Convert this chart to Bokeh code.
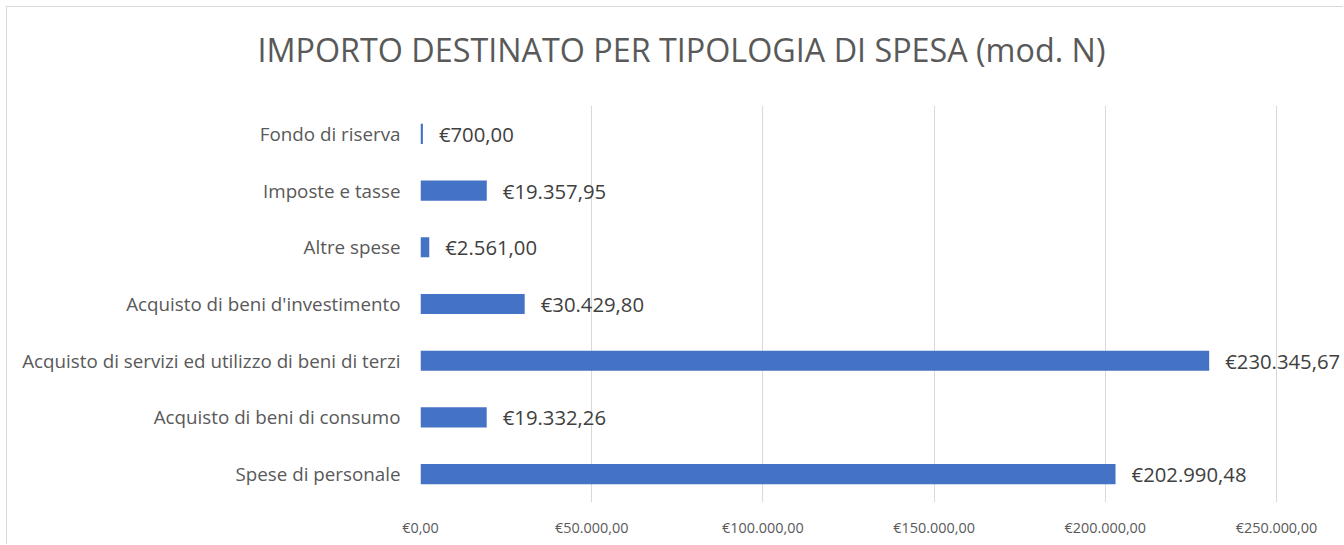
from bokeh.plotting import figure
from bokeh.models import FixedTicker, ColumnDataSource, Title
from bokeh.core.properties import value
from bokeh.embed import file_html
from bokeh.resources import INLINE

# ---- data (bottom to top) ----
categories = [
    "Spese di personale",
    "Acquisto di beni di consumo",
    "Acquisto di servizi ed utilizzo di beni di terzi",
    "Acquisto di beni d'investimento",
    "Altre spese",
    "Imposte e tasse",
    "Fondo di riserva",
]
amounts = [202990.48, 19332.26, 230345.67, 30429.80, 2561.00, 19357.95, 700.00]
tick_values = [0, 50000, 100000, 150000, 200000, 250000]
title_text = "IMPORTO DESTINATO PER TIPOLOGIA DI SPESA (mod. N)"


def euro(v):
    s = f"{v:,.2f}"  # 1,234.56
    s = s.replace(",", "X").replace(".", ",").replace("X", ".")
    return "€" + s


labels = [euro(v) for v in amounts]
tick_labels = {t: euro(t) for t in tick_values}

FONT = "Open Sans"
OFF = 7                      # canvas origin on the page (margin + border)
W, H = 1344 - OFF, 545 - OFF
FRAME_LEFT = 420 - OFF
FRAME_TOP = 105 - OFF
FRAME_BOTTOM_BORDER = 43
x_end = (W - FRAME_LEFT) / 856 * 250000

src = ColumnDataSource(dict(cat=categories, val=amounts, lab=labels))

p = figure(
    width=W, height=H, output_backend="svg", toolbar_location=None,
    y_range=categories, x_range=(0, x_end),
    min_border_left=FRAME_LEFT, min_border_right=0,
    min_border_top=FRAME_TOP, min_border_bottom=FRAME_BOTTOM_BORDER,
)
p.margin = (6, 0, 0, 6)
p.styles = {"border-left": "1px solid #d9d9d9", "border-top": "1px solid #d9d9d9"}

p.hbar(y="cat", right="val", left=0, height=0.355, source=src,
       fill_color="#4472C4", line_color=None)

p.text(x="val", y="cat", text="lab", source=src, x_offset=16,
       text_baseline="middle", text_align="left",
       text_font=value(FONT), text_font_size="20.3px", text_color="#404040")

# spacer between frame and title
p.add_layout(Title(text=" ", text_font_size="1px", standoff=27), "above")

# title
p.title.text = title_text
p.title.text_font = FONT
p.title.text_font_size = "32.3px"
p.title.text_font_style = "normal"
p.title.text_color = "#595959"
p.title.align = "left"
p.title.offset = -163
p.title.standoff = 10

# axes
p.xaxis.ticker = FixedTicker(ticks=tick_values)
p.xaxis.major_label_overrides = tick_labels
p.xaxis.axis_line_color = None
p.xaxis.major_tick_line_color = None
p.xaxis.minor_tick_line_color = None
p.xaxis.major_label_standoff = 9
p.xaxis.major_label_text_font = FONT
p.xaxis.major_label_text_font_size = "14.4px"
p.xaxis.major_label_text_color = "#595959"

p.yaxis.axis_line_color = None
p.yaxis.major_tick_line_color = None
p.yaxis.minor_tick_line_color = None
p.yaxis.major_label_standoff = 14
p.yaxis.major_label_text_font = FONT
p.yaxis.major_label_text_font_size = "18.8px"
p.yaxis.major_label_text_color = "#595959"

p.xgrid.grid_line_color = "#d9d9d9"
p.xgrid.grid_line_width = 1
p.ygrid.grid_line_color = None
p.outline_line_color = None
p.background_fill_color = "white"
p.border_fill_color = "white"

open("out.html", "w").write(file_html(p, INLINE))
